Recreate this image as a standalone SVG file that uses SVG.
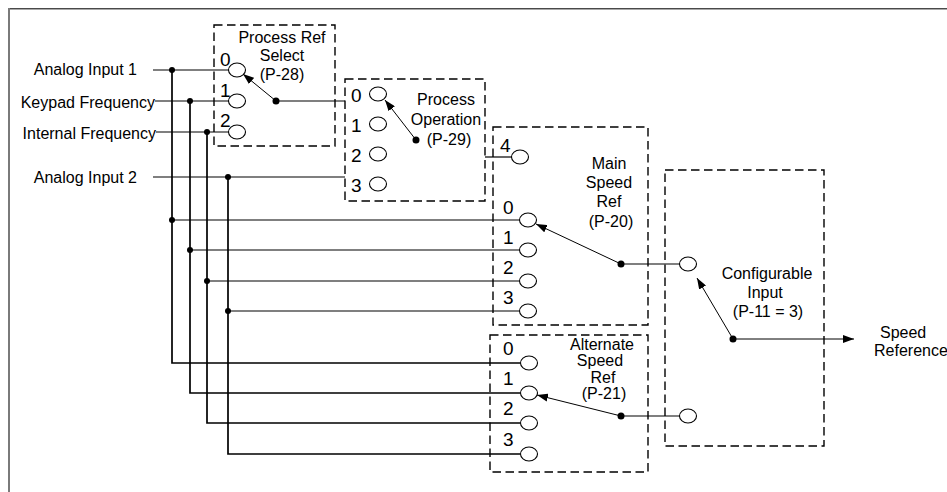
<svg xmlns="http://www.w3.org/2000/svg" width="947" height="492" viewBox="0 0 947 492">
<style>
text{font-family:"Liberation Sans",Arial,sans-serif;font-size:16px;fill:#000}
.d{font-size:19px}
.m{text-anchor:middle}
.e{text-anchor:end}
.box{fill:none;stroke:#000;stroke-width:1.4;stroke-dasharray:8.5 4.5}
.c{fill:#fff;stroke:#000;stroke-width:1.1}
.w{fill:none;stroke:#000;stroke-width:1.2}
.b{fill:none;stroke:#000;stroke-width:1.7}
.a{fill:none;stroke:#000;stroke-width:1;marker-end:url(#ah)}
.j{fill:#000}
</style>
<defs>
<marker id="ah" markerUnits="userSpaceOnUse" markerWidth="11" markerHeight="8" refX="11" refY="4" orient="auto">
<path d="M0,0 L11,4 L0,8 z" fill="#000"/>
</marker>
</defs>
<rect x="0" y="0" width="947" height="492" fill="#fff"/>
<line x1="8" y1="8.5" x2="947" y2="8.5" stroke="#4a4a4a" stroke-width="1"/>
<line x1="8" y1="9.5" x2="947" y2="9.5" stroke="#a8a8a8" stroke-width="1"/>
<line x1="9" y1="8" x2="9" y2="492" stroke="#7a7a7a" stroke-width="2"/>

<g id="inputs">
<text class="e" x="137" y="75">Analog Input 1</text>
<text class="e" x="155" y="108">Keypad Frequency</text>
<text class="e" x="156" y="139">Internal Frequency</text>
<text class="e" x="137" y="183">Analog Input 2</text>
</g>

<g id="connectors">
<line class="w" x1="153" y1="70" x2="229" y2="70"/>
<line class="w" x1="155" y1="101" x2="229" y2="101"/>
<line class="w" x1="156" y1="132" x2="229" y2="132"/>
<line class="w" x1="153" y1="177" x2="345" y2="177"/>
<line class="w" x1="276" y1="101" x2="345" y2="101"/>
<line class="w" x1="485" y1="157" x2="512" y2="157"/>
<polyline class="b" points="172,70 172,363 520,363"/>
<polyline class="b" points="190,101 190,393 520,393"/>
<polyline class="b" points="207,132 207,423 520,423"/>
<polyline class="b" points="228,177 228,454 520,454"/>
<line class="w" x1="172" y1="220" x2="519" y2="220"/>
<line class="w" x1="190" y1="250" x2="519" y2="250"/>
<line class="w" x1="207" y1="281" x2="519" y2="281"/>
<line class="w" x1="228" y1="311" x2="519" y2="311"/>
<line class="w" x1="621" y1="264" x2="680" y2="264"/>
<line class="w" x1="621" y1="416" x2="680" y2="416"/>
<circle class="j" cx="172" cy="70" r="3"/>
<circle class="j" cx="190" cy="101" r="3"/>
<circle class="j" cx="207" cy="132" r="3"/>
<circle class="j" cx="228" cy="177" r="3"/>
<circle class="j" cx="172" cy="220" r="3"/>
<circle class="j" cx="190" cy="250" r="3"/>
<circle class="j" cx="207" cy="281" r="3"/>
<circle class="j" cx="228" cy="311" r="3"/>
</g>

<g id="process-ref-select">
<rect class="box" x="214" y="25" width="121" height="121"/>
<text class="m" x="282" y="43">Process Ref</text>
<text class="m" x="282" y="61">Select</text>
<text class="m" x="282" y="80">(P-28)</text>
<text class="d" x="220" y="66">0</text>
<text class="d" x="220" y="97">1</text>
<text class="d" x="220" y="127">2</text>
<ellipse class="c" cx="237" cy="70" rx="8.5" ry="7"/>
<ellipse class="c" cx="237" cy="101" rx="8.5" ry="7"/>
<ellipse class="c" cx="237" cy="132" rx="8.5" ry="7"/>
<line class="a" x1="276" y1="101" x2="243" y2="74"/>
<circle class="j" cx="276" cy="101" r="3.5"/>
</g>

<g id="process-operation">
<rect class="box" x="345" y="79" width="140" height="122"/>
<text class="m" x="446" y="105">Process</text>
<text class="m" x="446" y="125">Operation</text>
<text class="m" x="449" y="145">(P-29)</text>
<text class="d" x="351" y="102">0</text>
<text class="d" x="351" y="132">1</text>
<text class="d" x="351" y="162">2</text>
<text class="d" x="351" y="192">3</text>
<ellipse class="c" cx="378" cy="94" rx="8.5" ry="7"/>
<ellipse class="c" cx="378" cy="124" rx="8.5" ry="7"/>
<ellipse class="c" cx="378" cy="154" rx="8.5" ry="7"/>
<ellipse class="c" cx="378" cy="184" rx="8.5" ry="7"/>
<line class="a" x1="416" y1="140" x2="385" y2="100"/>
<circle class="j" cx="416" cy="140" r="3.5"/>
</g>

<g id="main-speed-ref">
<rect class="box" x="493" y="127" width="155" height="198"/>
<text class="m" x="609" y="169">Main</text>
<text class="m" x="609" y="188">Speed</text>
<text class="m" x="609" y="207">Ref</text>
<text class="m" x="611" y="227">(P-20)</text>
<text class="d" x="500" y="152">4</text>
<text class="d" x="503" y="214">0</text>
<text class="d" x="503" y="244">1</text>
<text class="d" x="503" y="274">2</text>
<text class="d" x="503" y="304">3</text>
<ellipse class="c" cx="520" cy="157" rx="8.5" ry="7"/>
<ellipse class="c" cx="528" cy="220" rx="8.5" ry="7"/>
<ellipse class="c" cx="528" cy="250" rx="8.5" ry="7"/>
<ellipse class="c" cx="528" cy="281" rx="8.5" ry="7"/>
<ellipse class="c" cx="528" cy="311" rx="8.5" ry="7"/>
<line class="a" x1="621" y1="264" x2="536" y2="224"/>
<circle class="j" cx="621" cy="264" r="3.5"/>
</g>

<g id="alternate-speed-ref">
<rect class="box" x="490" y="335" width="158" height="137"/>
<text class="m" x="602" y="350">Alternate</text>
<text class="m" x="600" y="366">Speed</text>
<text class="m" x="603" y="383">Ref</text>
<text class="m" x="604" y="399">(P-21)</text>
<text class="d" x="503" y="355">0</text>
<text class="d" x="503" y="385">1</text>
<text class="d" x="503" y="415">2</text>
<text class="d" x="503" y="446">3</text>
<ellipse class="c" cx="529" cy="363" rx="8.5" ry="7"/>
<ellipse class="c" cx="529" cy="393" rx="8.5" ry="7"/>
<ellipse class="c" cx="529" cy="423" rx="8.5" ry="7"/>
<ellipse class="c" cx="529" cy="454" rx="8.5" ry="7"/>
<line class="a" x1="621" y1="416" x2="537" y2="395"/>
<circle class="j" cx="621" cy="416" r="3.5"/>
</g>

<g id="configurable-input">
<rect class="box" x="665" y="170" width="159" height="276"/>
<text class="m" x="767" y="279">Configurable</text>
<text class="m" x="765" y="298">Input</text>
<text class="m" x="768" y="317">(P-11 = 3)</text>
<ellipse class="c" cx="688" cy="264" rx="8.5" ry="7"/>
<ellipse class="c" cx="688" cy="416" rx="8.5" ry="7"/>
<line class="a" x1="733" y1="339" x2="697" y2="278"/>
<line class="a" x1="733" y1="339" x2="854" y2="339"/>
<circle class="j" cx="733" cy="339" r="3.5"/>
</g>

<g id="speed-reference">
<text x="880" y="338">Speed</text>
<text x="874" y="356">Reference</text>
</g>
</svg>
